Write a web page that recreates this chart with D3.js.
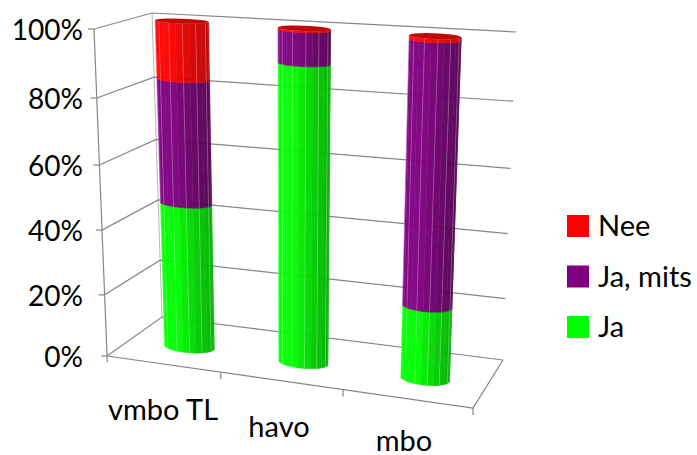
<!DOCTYPE html>
<html>
<head>
<meta charset="utf-8">
<script src="https://cdn.jsdelivr.net/npm/d3@7"></script>
<style>
  html, body { margin: 0; padding: 0; background: #fff; overflow: hidden; }
  text { font-family: Lato, "Open Sans", sans-serif; fill: #000; }
</style>
</head>
<body>
<svg id="chart" width="697" height="455"></svg>
<script>
// values
var categories = ["vmbo TL", "havo", "mbo"];
var seriesNames = ["Ja", "Ja, mits", "Nee"];
var ja = [45.5, 90, 22.5];
var jaMits = [37.5, 9.5, 76.5];
var nee = [17, 0.5, 1];
var tickValues = [0, 20, 40, 60, 80, 100];

var colors = { "Ja": "#00ff00", "Ja, mits": "#800080", "Nee": "#ff0000" };
var dark = { "Ja": "#00b400", "Ja, mits": "#560056", "Nee": "#c00000" };

var svg = d3.select("#chart");

// the eight corners of the chart box on screen
var box = {
  flb: [107, 356], frb: [473, 408], blb: [162, 317], brb: [503, 360],
  flt: [94, 29], frt: [489, 56], blt: [152, 13], brt: [516, 32]
};

// perspective makes the steps uneven, so the scales are piecewise
var y = d3.scaleLinear().domain(tickValues).range([0, 0.187, 0.385, 0.584, 0.789, 1]);
var xFrac = d3.scaleLinear().domain([0, 1, 2, 3]).range([0, 0.311, 0.645, 1]);
// the columns stand a little nearer than the box mapping gives
var barV = d3.scaleLinear().domain([0, 1]).range([-0.01, 1.011]);

function mix(a, b, t) { return [a[0] + (b[0] - a[0]) * t, a[1] + (b[1] - a[1]) * t]; }

// u along the categories, v = height, w = depth, all 0..1
function project(u, v, w) {
  var bottom = mix(mix(box.flb, box.frb, u), mix(box.blb, box.brb, u), w);
  var top = mix(mix(box.flt, box.frt, u), mix(box.blt, box.brt, u), w);
  return mix(bottom, top, v);
}

var line = d3.line();
var gridColor = "#868686";

function seg(g, pts, width) {
  g.append("path").attr("d", line(pts)).attr("fill", "none")
    .attr("stroke", gridColor).attr("stroke-width", width || 1.2);
}

var grid = svg.append("g");
tickValues.forEach(function(t) {
  var v = y(t);
  seg(grid, [project(0, v, 0), project(0, v, 1), project(1, v, 1)]);
  var p = project(0, v, 0);
  seg(grid, [[p[0] - 6, p[1]], p]);
});
var axisFoot = project(0, 0, 0);
seg(grid, [[axisFoot[0] + 0.3, axisFoot[1] + 6], project(0, 1, 0)]);
seg(grid, [project(0, 0, 1), project(0, 1, 1)], 0.6);
seg(grid, [project(0, 0, 0), project(1, 0, 0), project(1, 0, 1)]);

d3.range(1, 4).forEach(function(i) {
  var p = project(xFrac(i), 0, 0);
  seg(grid, [p, [p[0], p[1] + 7]]);
});

// cylinders
var facets = 24;
var radiusU = 0.068, radiusW = 0.125;
var shade = function(name) {
  return d3.scaleLinear().domain([-1, -0.2, 1]).range([colors[name], colors[name], dark[name]]);
};

function ring(cu, v) {
  return d3.range(facets).map(function(k) {
    var a = k / facets * 2 * Math.PI;
    return project(cu + radiusU * Math.cos(a), barV(v), 0.5 + radiusW * Math.sin(a));
  });
}

var stacks = categories.map(function(c, i) { return [ja[i], jaMits[i], nee[i]]; });

stacks.forEach(function(vals, i) {
  var cu = xFrac(i + 0.5);
  var bar = svg.append("g").attr("opacity", 0.96);
  var start = 0;
  vals.forEach(function(val, s) {
    var name = seriesNames[s];
    var low = ring(cu, y(start));
    var high = ring(cu, y(start + val));
    var col = shade(name);
    var visible = [];
    d3.range(facets).forEach(function(k) {
      var n = (k + 1) % facets;
      // a facet faces the viewer when its edge runs left to right
      if (low[n][0] > low[k][0]) {
        visible.push({ k: k, n: n, c: Math.cos((k + 0.5) / facets * 2 * Math.PI) });
      }
    });
    visible.forEach(function(f) {
      var poly = [low[f.k], low[f.n], high[f.n], high[f.k]];
      bar.append("path").attr("d", line(poly) + "Z")
        .attr("fill", col(f.c)).attr("stroke", col(f.c)).attr("stroke-width", 0.5);
    });
    visible.forEach(function(f, idx) {
      if (idx % 2 == 1) {
        bar.append("path").attr("d", line([low[f.k], high[f.k]]))
          .attr("stroke", "#fff").attr("stroke-opacity", 0.3).attr("stroke-width", 0.8);
      }
    });
    start += val;
  });
  // top cap
  bar.append("path").attr("d", line(ring(cu, y(start))) + "Z").attr("fill", dark["Nee"]);
});

// axis labels
svg.append("g").selectAll("text").data(tickValues).join("text")
  .attr("x", 83)
  .attr("y", function(d) { return project(0, y(d), 0)[1] + 11; })
  .attr("text-anchor", "end").attr("font-size", 28)
  .text(function(d) { return d + "%"; });

var catX = [163, 279, 404];
var catY = [420, 437, 451];
svg.append("g").selectAll("text").data(categories).join("text")
  .attr("x", function(d, i) { return catX[i]; })
  .attr("y", function(d, i) { return catY[i]; })
  .attr("text-anchor", "middle").attr("font-size", 29)
  .text(function(d) { return d; });

// legend
var legendY = d3.scalePoint().domain(seriesNames).range([327, 226]);
var legend = svg.append("g").selectAll("g").data(seriesNames).join("g")
  .attr("transform", function(d) { return "translate(567," + legendY(d) + ")"; });
legend.append("rect").attr("x", 0).attr("y", -11).attr("width", 22).attr("height", 22)
  .attr("fill", function(d) { return colors[d]; });
legend.append("text").attr("x", 31).attr("y", 10).attr("font-size", 29)
  .text(function(d) { return d; });
</script>
</body>
</html>
